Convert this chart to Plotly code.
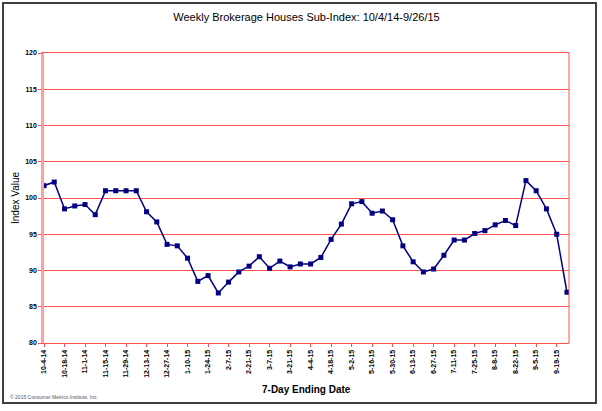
import plotly.graph_objects as go

tick_labels = ["10-4-14", "10-18-14", "11-1-14", "11-15-14", "11-29-14", "12-13-14",
               "12-27-14", "1-10-15", "1-24-15", "2-7-15", "2-21-15", "3-7-15",
               "3-21-15", "4-4-15", "4-18-15", "5-2-15", "5-16-15", "5-30-15",
               "6-13-15", "6-27-15", "7-11-15", "7-25-15", "8-8-15", "8-22-15",
               "9-5-15", "9-19-15"]

values = [101.7, 102.2, 98.5, 98.9, 99.1, 97.7, 101.0, 101.0, 101.0, 101.0,
          98.1, 96.7, 93.6, 93.4, 91.7, 88.5, 89.3, 86.9, 88.4, 89.8,
          90.6, 91.9, 90.3, 91.3, 90.5, 90.9, 90.9, 91.8, 94.3, 96.4,
          99.2, 99.5, 97.9, 98.2, 97.0, 93.4, 91.2, 89.8, 90.2, 92.1,
          94.2, 94.2, 95.1, 95.5, 96.3, 96.9, 96.2, 102.4, 101.0, 98.5,
          95.0, 87.0]

x_idx = list(range(len(values)))
tick_pos = list(range(0, len(values), 2))

fig = go.Figure()
fig.add_trace(go.Scatter(
    x=x_idx, y=values, mode="lines+markers",
    line=dict(color="#000080", width=1.5),
    marker=dict(symbol="square", size=5, color="#000080"),
    hoverinfo="y", showlegend=False,
))

L, R, T, B = 44, 33, 53, 68
W, H = 602, 411
pw, ph = W - L - R, H - T - B

def px(xp):
    return (xp - L) / pw

def py(yp):
    return (H - B - yp) / ph

fig.update_layout(
    width=W, height=H,
    margin=dict(l=L, r=R, t=T, b=B, autoexpand=False),
    paper_bgcolor="white", plot_bgcolor="white",
    font=dict(family="Arial, Liberation Sans, sans-serif", color="black"),
    title=dict(text="Weekly Brokerage Houses Sub-Index: 10/4/14-9/26/15",
               x=0.5, xref="paper", y=1 - 17 / H, yanchor="middle",
               font=dict(size=11)),
    xaxis=dict(
        range=[0, 51.2], tickmode="array", tickvals=tick_pos,
        ticktext=["<b>" + t + "</b>" for t in tick_labels],
        tickangle=-90, tickfont=dict(size=7), automargin=False,
        showgrid=False, zeroline=False,
        showline=True, linecolor="#FF5050", linewidth=1, mirror=True,
        ticks="outside", ticklen=3, tickcolor="#FF5050",
    ),
    yaxis=dict(
        range=[80, 120], dtick=5, tickfont=dict(size=7), automargin=False,
        tickprefix="<b>", ticksuffix="</b>",
        showgrid=True, gridcolor="#FF5050", gridwidth=1, zeroline=False,
        showline=True, linecolor="#FFA0A0", linewidth=2.5, mirror=False,
        ticks="outside", ticklen=3, tickcolor="#FF5050",
    ),
    shapes=[
        dict(type="line", xref="paper", yref="paper", x0=1, x1=1, y0=0, y1=1,
             line=dict(color="#FF5050", width=1)),
        dict(type="rect", xref="paper", yref="paper",
             x0=px(3), x1=px(596), y0=py(403), y1=py(3),
             line=dict(color="#404040", width=2), fillcolor="rgba(0,0,0,0)",
             layer="below"),
    ],
    annotations=[
        dict(text="© 2015 Consumer Metrics Institute, Inc.", xref="paper", yref="paper",
             x=px(8), y=py(397), xanchor="left", yanchor="middle", showarrow=False,
             font=dict(size=5, color="#555555")),
        dict(text="<b>7-Day Ending Date</b>", xref="paper", yref="paper",
             x=0.5, y=py(389), xanchor="center", yanchor="middle", showarrow=False,
             font=dict(size=10)),
        dict(text="Index Value", xref="paper", yref="paper", textangle=-90,
             x=px(15), y=0.5, xanchor="center", yanchor="middle", showarrow=False,
             font=dict(size=10)),
    ],
)

fig.write_html("out.html",
               config={"displayModeBar": False},
               post_script="document.body.style.margin='0';document.body.style.overflow='hidden';")
